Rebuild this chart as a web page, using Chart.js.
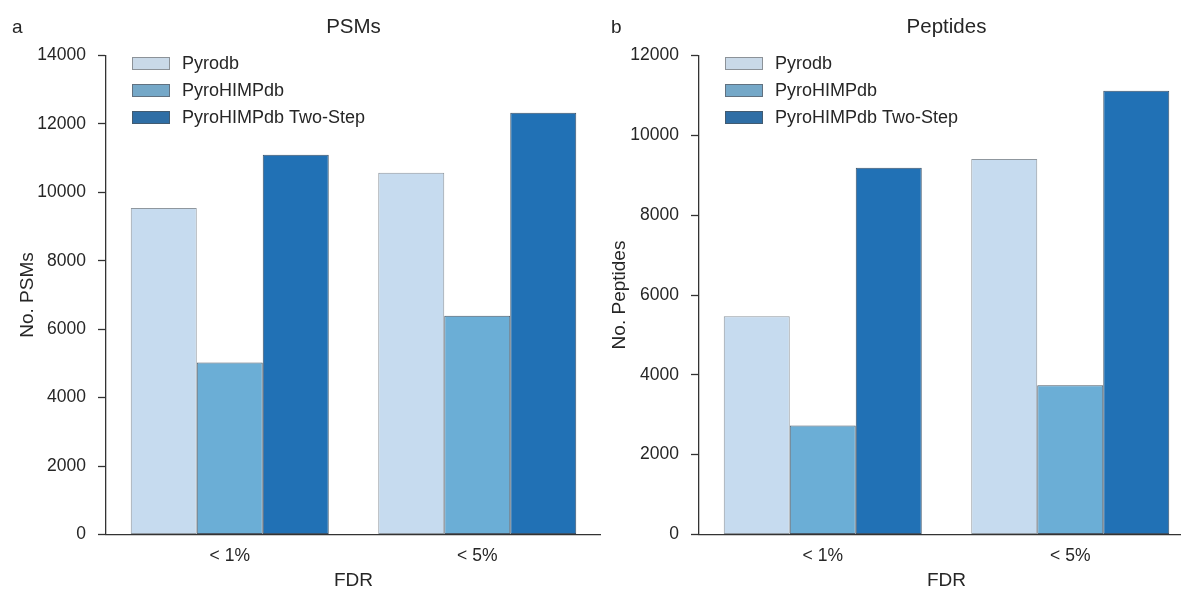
<!DOCTYPE html>
<html>
<head>
<meta charset="utf-8">
<script src="https://cdn.jsdelivr.net/npm/chart.js@4.4.1/dist/chart.umd.min.js"></script>
<style>
  html, body { margin: 0; padding: 0; background: #fff; overflow: hidden; }
  #wrap { position: relative; width: 1181px; height: 590px; overflow: hidden; background: #fff; }
  canvas { position: absolute; top: 0; }
  #psmChart { left: 0; }
  #peptideChart { left: 600px; }
  .panel { position: absolute; font: 19px "Liberation Sans", Arial, sans-serif; line-height: 19px; color: #262626; }
</style>
</head>
<body>
<div id="wrap">
  <canvas id="psmChart" width="601" height="590"></canvas>
  <canvas id="peptideChart" width="594" height="590"></canvas>
  <div class="panel" style="left:12px; top:17px;">a</div>
  <div class="panel" style="left:611px; top:17px;">b</div>
</div>
<script>
// FDR thresholds on the x axis
const categories = ['< 1%', '< 5%'];
const seriesNames = ['Pyrodb', 'PyroHIMPdb', 'PyroHIMPdb Two-Step'];

// PSM counts per database
const psmPyrodb = [9540, 10570];
const psmPyroHIMPdb = [5030, 6390];
const psmTwoStep = [11100, 12330];

// Peptide counts per database
const pepPyrodb = [5470, 9410];
const pepPyroHIMPdb = [2730, 3740];
const pepTwoStep = [9190, 11120];

// y-axis ranges and tick step
const psmYMax = 14000;
const pepYMax = 12000;
const yStep = 2000;

const FONT = '"Liberation Sans", Arial, Helvetica, sans-serif';
const TEXT = '#262626';
const AXIS = '#333333';

const seriesStyle = [
  { fill: '#c6dbef', edge: '#8f979e', key: '#c9d9e8', keyEdge: '#8c9298' },
  { fill: '#6baed6', edge: '#4b5a68', key: '#75a8c8', keyEdge: '#617180' },
  { fill: '#2171b5', edge: '#3b5268', key: '#2f6ea5', keyEdge: '#425b71' }
];

// Legend drawn inside the plot area, top-left corner
const insideLegend = {
  id: 'insideLegend',
  afterDraw(chart, args, opts) {
    const { ctx, chartArea } = chart;
    ctx.save();
    ctx.font = '18px ' + FONT;
    ctx.textBaseline = 'middle';
    ctx.textAlign = 'left';
    chart.data.datasets.forEach((ds, i) => {
      const st = seriesStyle[i];
      const x = chartArea.left + opts.offsetX;
      const cy = chartArea.top + opts.firstRow + i * opts.rowGap;
      ctx.fillStyle = st.key;
      ctx.fillRect(x, cy - 6.5, 38, 13);
      ctx.strokeStyle = st.keyEdge;
      ctx.lineWidth = 1;
      ctx.strokeRect(x + 0.5, cy - 6, 37, 12);
      ctx.fillStyle = TEXT;
      ctx.fillText(ds.label, x + 50, cy + 0.5);
    });
    ctx.restore();
  }
};

function makeChart(canvasId, titleText, yTitleText, yMax, series, yAxisWidth, yTitlePad) {
  const datasets = series.map((values, i) => ({
    label: seriesNames[i],
    data: values,
    backgroundColor: seriesStyle[i].fill,
    borderColor: seriesStyle[i].edge,
    borderWidth: 1,
    borderSkipped: false,
    categoryPercentage: 0.8,
    barPercentage: 1.0
  }));

  return new Chart(document.getElementById(canvasId), {
    type: 'bar',
    data: { labels: categories, datasets },
    plugins: [insideLegend],
    options: {
      responsive: false,
      animation: false,
      layout: { padding: 0 },
      plugins: {
        legend: { display: false },
        tooltip: { enabled: false },
        title: {
          display: true,
          text: titleText,
          fullSize: false,
          color: TEXT,
          font: { family: FONT, size: 20.5, weight: 'normal', lineHeight: 1.2 },
          padding: { top: 14.7, bottom: 16.2 }
        },
        insideLegend: { offsetX: 26, firstRow: 8, rowGap: 27 }
      },
      scales: {
        x: {
          type: 'category',
          afterFit(scale) { scale.height = 55.5; },
          border: { display: true, color: AXIS, width: 1.3 },
          grid: { drawOnChartArea: false, drawTicks: false },
          ticks: { color: TEXT, padding: 11, font: { family: FONT, size: 17.5 } },
          title: {
            display: true, text: 'FDR', color: TEXT,
            font: { family: FONT, size: 19, lineHeight: 1 },
            padding: { top: 0, bottom: 0 }
          }
        },
        y: {
          min: 0,
          max: yMax,
          afterFit(scale) { scale.width = yAxisWidth; },
          border: { display: true, color: AXIS, width: 1.3 },
          grid: { drawOnChartArea: false, drawTicks: true, tickLength: 8, tickColor: AXIS, tickWidth: 1.3 },
          ticks: {
            stepSize: yStep,
            autoSkip: false,
            color: TEXT,
            padding: 12,
            font: { family: FONT, size: 17.5 },
            callback: v => String(v)
          },
          title: {
            display: true, text: yTitleText, color: TEXT,
            font: { family: FONT, size: 19, lineHeight: 1 },
            padding: { top: yTitlePad, bottom: 0 }
          }
        }
      }
    }
  });
}

makeChart('psmChart', 'PSMs', 'No. PSMs', psmYMax,
  [psmPyrodb, psmPyroHIMPdb, psmTwoStep], 106, 18.5);
makeChart('peptideChart', 'Peptides', 'No. Peptides', pepYMax,
  [pepPyrodb, pepPyroHIMPdb, pepTwoStep], 99, 10.5);
</script>
</body>
</html>
